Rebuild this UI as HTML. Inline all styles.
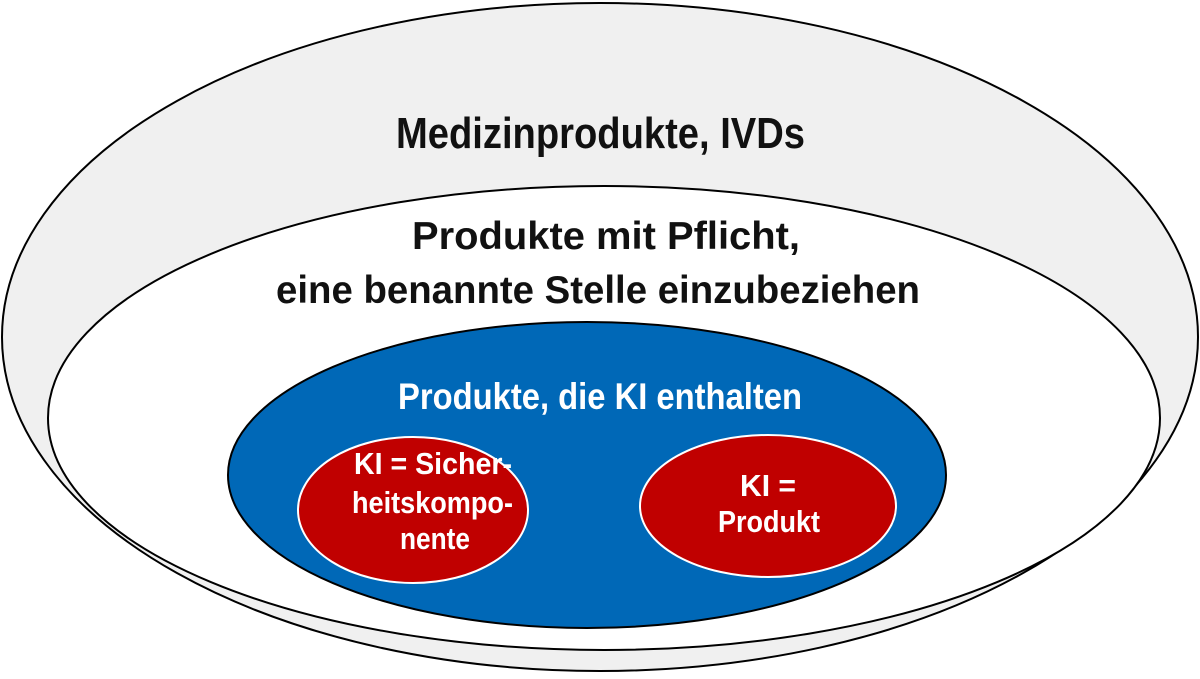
<!DOCTYPE html>
<html><head><meta charset="utf-8"><style>html,body{margin:0;padding:0;background:#fff}svg{display:block}</style></head>
<body>
<svg width="1200" height="679" viewBox="0 0 1200 679" xmlns="http://www.w3.org/2000/svg" font-family="Liberation Sans, sans-serif">
<ellipse cx="600" cy="337" rx="598" ry="334" fill="#f0f0f0" stroke="#000" stroke-width="2"/>
<ellipse cx="604" cy="418" rx="556" ry="232" fill="#fff" stroke="#000" stroke-width="2"/>
<ellipse cx="587" cy="475" rx="359" ry="153" fill="#0068b7" stroke="#000" stroke-width="2"/>
<ellipse cx="413" cy="510" rx="115" ry="73" fill="#c00000" stroke="#fff" stroke-width="2"/>
<ellipse cx="768" cy="506" rx="128" ry="71" fill="#c00000" stroke="#fff" stroke-width="2"/>
<g fill="#111" font-weight="bold">
<text x="396" y="148" font-size="44" textLength="409" lengthAdjust="spacingAndGlyphs">Medizinprodukte, IVDs</text>
<text x="412" y="249" font-size="39" textLength="388" lengthAdjust="spacingAndGlyphs">Produkte mit Pflicht,</text>
<text x="276" y="303" font-size="39" textLength="644" lengthAdjust="spacingAndGlyphs">eine benannte Stelle einzubeziehen</text>
</g>
<g fill="#fff" font-weight="bold">
<text x="398" y="409" font-size="37" textLength="404" lengthAdjust="spacingAndGlyphs">Produkte, die KI enthalten</text>
<text x="354" y="474" font-size="31" textLength="158" lengthAdjust="spacingAndGlyphs">KI = Sicher-</text>
<text x="352" y="513" font-size="31" textLength="161" lengthAdjust="spacingAndGlyphs">heitskompo-</text>
<text x="400" y="549" font-size="31" textLength="70" lengthAdjust="spacingAndGlyphs">nente</text>
<text x="740" y="496" font-size="31" textLength="56" lengthAdjust="spacingAndGlyphs">KI =</text>
<text x="718" y="532" font-size="31" textLength="102" lengthAdjust="spacingAndGlyphs">Produkt</text>
</g>
</svg>
</body></html>
